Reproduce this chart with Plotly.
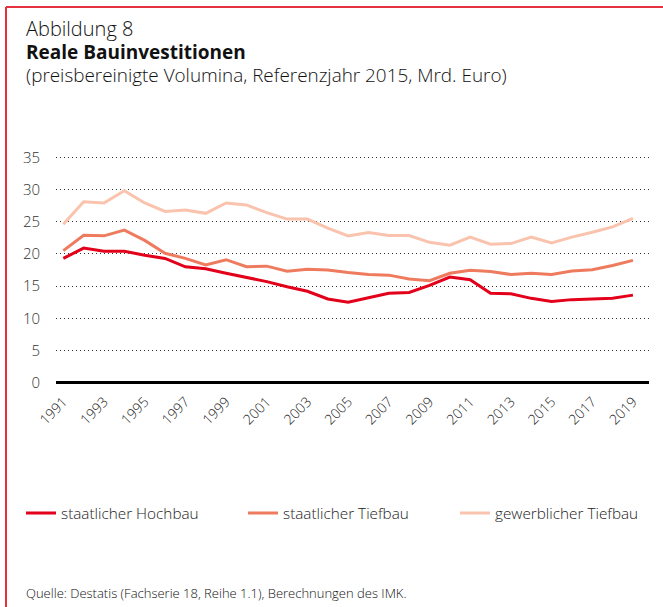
import plotly.graph_objects as go

years = list(range(1991, 2020))
hochbau = [19.3, 20.9, 20.4, 20.4, 19.8, 19.3, 18.0, 17.7, 17.0, 16.4, 15.7, 14.9, 14.2, 13.0,
           12.5, 13.2, 13.9, 14.0, 15.1, 16.4, 16.0, 13.9, 13.8, 13.1, 12.6, 12.9, 12.95, 13.1, 13.6]
tiefbau_staat = [20.5, 22.9, 22.8, 23.7, 22.1, 20.1, 19.3, 18.3, 19.1, 18.0, 18.1, 17.3, 17.6, 17.5,
                 17.1, 16.8, 16.7, 16.1, 15.85, 17.0, 17.45, 17.25, 16.8, 17.0, 16.8, 17.35, 17.55, 18.2, 19.0]
tiefbau_gew = [24.6, 28.1, 27.9, 29.8, 27.9, 26.6, 26.8, 26.3, 27.9, 27.6, 26.4, 25.4, 25.4, 24.0,
               22.8, 23.3, 22.85, 22.85, 21.8, 21.35, 22.6, 21.5, 21.6, 22.6, 21.7, 22.6, 23.35, 24.2, 25.5]

names = ["staatlicher Hochbau", "staatlicher Tiefbau", "gewerblicher Tiefbau"]
colors = ["#E2001A", "#EE7B5E", "#F9C3AD"]
series = [hochbau, tiefbau_staat, tiefbau_gew]
xticks = list(range(1991, 2020, 2))
yticks = list(range(0, 40, 5))

title_lines = ["Abbildung 8", "Reale Bauinvestitionen",
               "(preisbereinigte Volumina, Referenzjahr 2015, Mrd. Euro)"]
source = "Quelle: Destatis (Fachserie 18, Reihe 1.1), Berechnungen des IMK."

W, H = 663, 607
L, R, T, B = 56, 14, 150, 217
PW, PH = W - L - R, H - T - B

def px(x):
    return (x - L) / PW

def py(y):
    return (H - B - y) / PH

FONT = "Open Sans"

fig = go.Figure()
legends = ["legend", "legend2", "legend3"]
for s, n, c, lg in zip(series, names, colors, legends):
    fig.add_trace(go.Scatter(x=years, y=s, name=n, mode="lines",
                             line=dict(color=c, width=3), legend=lg))

leg_x = [21, 243, 455]
leg_common = dict(xref="container", yref="container", orientation="h",
                  yanchor="middle", xanchor="left", bgcolor="rgba(0,0,0,0)",
                  font=dict(family=FONT, size=15.3, color="#222", weight=300))
fig.update_layout(
    legend=dict(x=leg_x[0] / W, y=1 - 513 / H, **leg_common),
    legend2=dict(x=leg_x[1] / W, y=1 - 513 / H, **leg_common),
    legend3=dict(x=leg_x[2] / W, y=1 - 513 / H, **leg_common),
)

fig.update_layout(
    width=W, height=H,
    margin=dict(l=L, r=R, t=T, b=B),
    paper_bgcolor="white", plot_bgcolor="white",
    font=dict(family=FONT, color="#222"),
    xaxis=dict(range=[1990.64, 2019.79], tickvals=xticks, ticktext=[str(v) for v in xticks],
               tickangle=-45, showgrid=False, zeroline=False, showline=False, ticks="",
               tickfont=dict(family=FONT, size=14, color="#222", weight=300)),
    yaxis=dict(range=[-1.13, 36.13], tickvals=yticks, showgrid=True, gridcolor="#333",
               griddash="1px,3px", gridwidth=1, zeroline=True, zerolinecolor="#000",
               zerolinewidth=3, showline=False, ticks="", ticklabelstandoff=15,
               tickfont=dict(family=FONT, size=15, color="#333", weight=300)),
    showlegend=True,
)

title_text = (f"<span style='font-size:20px'>{title_lines[0]}</span><br>"
              f"<b><span style='font-size:19px'>{title_lines[1]}</span></b><br>"
              f"<span style='font-size:18.9px'>{title_lines[2]}</span>")
fig.add_annotation(text=title_text, x=px(24), y=py(13), xref="paper", yref="paper",
                   xanchor="left", yanchor="top", align="left", showarrow=False,
                   font=dict(family=FONT, size=17.5, color="#111", weight=300))
fig.add_annotation(text=source, x=px(24), y=py(593), xref="paper", yref="paper",
                   xanchor="left", yanchor="middle", showarrow=False,
                   font=dict(family=FONT, size=13, color="#111", weight=300))

border = "#E4323F"
fig.add_shape(type="line", xref="paper", yref="paper", x0=px(6), x1=px(663), y0=py(7), y1=py(7),
              line=dict(color=border, width=2))
fig.add_shape(type="line", xref="paper", yref="paper", x0=px(6), x1=px(6), y0=py(7), y1=py(607),
              line=dict(color=border, width=2))

fig.write_html("out.html", config={"displayModeBar": False},
               post_script="document.body.style.margin='0';")
